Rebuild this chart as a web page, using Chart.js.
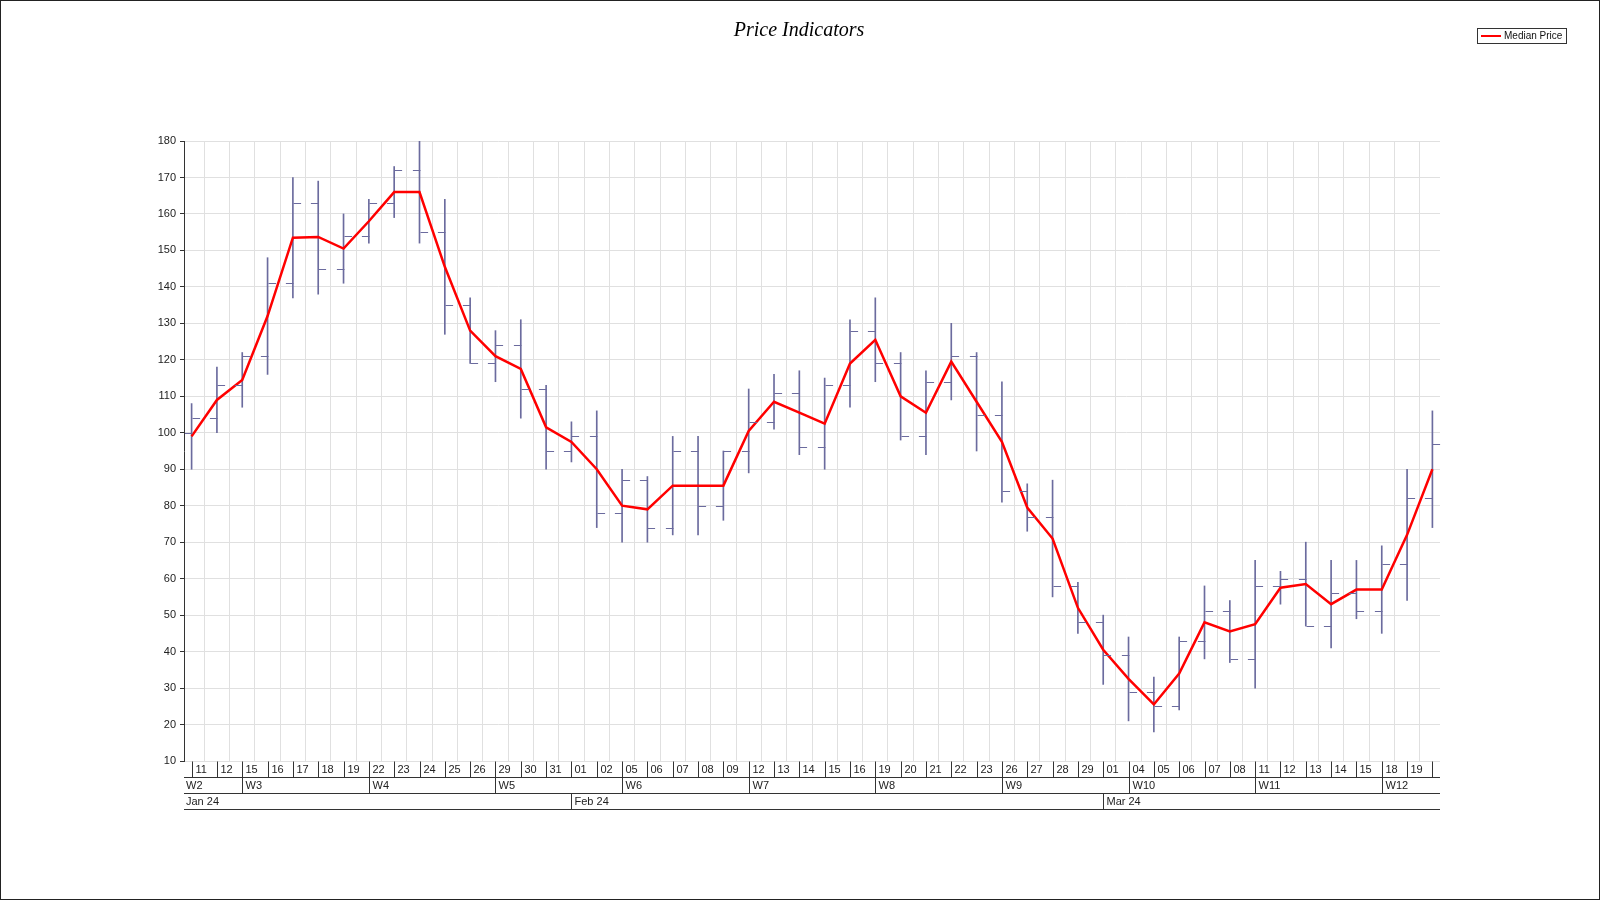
<!DOCTYPE html>
<html>
<head>
<meta charset="utf-8">
<script src="https://cdn.jsdelivr.net/npm/chart.js@4.4.1/dist/chart.umd.min.js"></script>
<style>
  html, body { margin: 0; padding: 0; background: #fff; }
  #wrap { width: 1598px; height: 898px; border: 1px solid #222; }
</style>
</head>
<body>
<div id="wrap"><canvas id="priceChart" width="1598" height="898"></canvas></div>
<script>
// ===== Data =====
const days = ['11','12','15','16','17','18','19','22','23','24','25','26','29','30','31',
  '01','02','05','06','07','08','09','12','13','14','15','16','19','20','21','22','23','26','27','28','29',
  '01','04','05','06','07','08','11','12','13','14','15','18','19',''];
const weeks = ['W2','W2','W3','W3','W3','W3','W3','W4','W4','W4','W4','W4','W5','W5','W5',
  'W5','W5','W6','W6','W6','W6','W6','W7','W7','W7','W7','W7','W8','W8','W8','W8','W8','W9','W9','W9','W9',
  'W9','W10','W10','W10','W10','W10','W11','W11','W11','W11','W11','W12','W12','W12'];
const months = ['Jan 24','Jan 24','Jan 24','Jan 24','Jan 24','Jan 24','Jan 24','Jan 24','Jan 24','Jan 24','Jan 24','Jan 24','Jan 24','Jan 24','Jan 24',
  'Feb 24','Feb 24','Feb 24','Feb 24','Feb 24','Feb 24','Feb 24','Feb 24','Feb 24','Feb 24','Feb 24','Feb 24','Feb 24','Feb 24','Feb 24','Feb 24','Feb 24','Feb 24','Feb 24','Feb 24','Feb 24',
  'Mar 24','Mar 24','Mar 24','Mar 24','Mar 24','Mar 24','Mar 24','Mar 24','Mar 24','Mar 24','Mar 24','Mar 24','Mar 24','Mar 24'];

const openP  = [100,104,113,121,141,163,145,154,163,172,155,135,119,124,112, 95, 99, 78, 87, 74, 95, 80, 95,103,111, 96,113,128,119, 99,114,121,105, 84, 77, 58, 48, 39, 29, 25, 43, 51, 38, 58, 60, 47, 56, 51, 64, 82];
const highP  = [108,118,122,148,170,169,160,164,173,180,164,137,128,131,113,103,106, 90, 88, 99, 99, 95,112,116,117,115,131,137,122,117,130,122,114, 86, 87, 59, 50, 44, 33, 44, 58, 54, 65, 62, 70, 65, 65, 69, 90,106];
const lowP   = [ 90,100,107,116,137,138,141,152,159,152,127,119,114,104, 90, 92, 74, 70, 70, 72, 72, 76, 89,101, 94, 90,107,114, 98, 94,109, 95, 81, 73, 55, 45, 31, 21, 18, 24, 38, 37, 30, 53, 47, 41, 49, 45, 54, 74];
const closeP = [104,113,121,141,163,145,154,163,172,155,135,119,124,112, 95, 99, 78, 87, 74, 95, 80, 95,103,111, 96,113,128,119, 99,114,121,105, 84, 77, 58, 48, 39, 29, 25, 43, 51, 38, 58, 60, 47, 56, 51, 64, 82, 97];
const medianP = [99,109,114.5,132,153.5,153.7,150.5,158,166,166,145.5,128,121,117.5,101.5,97.5,90,80,79,85.5,85.5,85.5,100.5,108.5,105.5,102.5,119,125.5,110,105.5,119.5,108.5,97.5,79.5,71,52,40.5,32.5,25.5,34,48,45.5,47.5,57.5,58.5,53,57,57,72,90];

const axisFont = "11px Arial, 'Liberation Sans', sans-serif";

// ===== Plugins =====
const ohlcTicks = {
  id: 'ohlcTicks',
  afterDatasetsDraw(chart) {
    const { ctx, scales: { x, y } } = chart;
    const w = (x.getPixelForValue(1) - x.getPixelForValue(0)) * 0.3;
    ctx.save();
    ctx.strokeStyle = '#6b6b9e';
    ctx.lineWidth = 1;
    openP.forEach((o, i) => {
      const px = Math.round(x.getPixelForValue(i)) + 0.5;
      ctx.beginPath();
      ctx.moveTo(px - w, Math.round(y.getPixelForValue(o)) + 0.5);
      ctx.lineTo(px, Math.round(y.getPixelForValue(o)) + 0.5);
      ctx.moveTo(px, Math.round(y.getPixelForValue(closeP[i])) + 0.5);
      ctx.lineTo(px + w, Math.round(y.getPixelForValue(closeP[i])) + 0.5);
      ctx.stroke();
    });
    ctx.restore();
  }
};

const dateAxis = {
  id: 'dateAxis',
  afterDraw(chart) {
    const { ctx, chartArea: a, scales: { x } } = chart;
    const rows = [a.bottom, a.bottom + 16, a.bottom + 32, a.bottom + 48];
    ctx.save();
    ctx.strokeStyle = '#333';
    ctx.lineWidth = 1;
    ctx.fillStyle = '#222';
    ctx.font = axisFont;
    ctx.textBaseline = 'middle';
    // horizontal rules
    [rows[1], rows[2], rows[3]].forEach(r => {
      ctx.beginPath(); ctx.moveTo(a.left, r + 0.5); ctx.lineTo(a.right, r + 0.5); ctx.stroke();
    });
    const cell = (row, px, label) => {
      ctx.beginPath();
      ctx.moveTo(px, rows[row] + 0.5); ctx.lineTo(px, rows[row + 1] + 0.5); ctx.stroke();
      ctx.fillText(label, px + 3, (rows[row] + rows[row + 1]) / 2 + 1);
    };
    days.forEach((d, i) => {
      const px = Math.round(x.getPixelForValue(i)) + 0.5;
      cell(0, px, d);
      if (i === 0) ctx.fillText(weeks[i], a.left + 2, (rows[1] + rows[2]) / 2 + 1);
      else if (weeks[i] !== weeks[i - 1]) cell(1, px, weeks[i]);
      if (i === 0) ctx.fillText(months[i], a.left + 2, (rows[2] + rows[3]) / 2 + 1);
      else if (months[i] !== months[i - 1]) cell(2, px, months[i]);
    });
    // title
    ctx.fillStyle = '#000';
    ctx.font = "italic 20px 'Liberation Serif', 'DejaVu Serif', serif";
    ctx.textAlign = 'center';
    ctx.fillText('Price Indicators', chart.width / 2 - 1, 30);
    // legend
    ctx.textAlign = 'left';
    ctx.strokeStyle = '#333';
    ctx.strokeRect(1476.5, 27.5, 89, 15);
    ctx.strokeStyle = '#ff0000';
    ctx.lineWidth = 2;
    ctx.beginPath(); ctx.moveTo(1480, 35); ctx.lineTo(1500, 35); ctx.stroke();
    ctx.fillStyle = '#111';
    ctx.font = "10px Arial, 'Liberation Sans', sans-serif";
    ctx.fillText('Median Price', 1503, 35);
    ctx.restore();
  }
};

// ===== Price Chart =====
const ctx = document.getElementById('priceChart').getContext('2d');
new Chart(ctx, {
  type: 'bar',
  plugins: [ohlcTicks, dateAxis],
  data: {
    datasets: [
      {
        type: 'line',
        label: 'Median Price',
        data: medianP.map((v, i) => ({ x: i, y: v })),
        borderColor: '#ff0000',
        borderWidth: 2.5,
        pointRadius: 0,
        tension: 0,
        order: 0
      },
      {
        type: 'bar',
        label: 'High-Low',
        data: highP.map((h, i) => ({ x: i, y: [lowP[i], h] })),
        backgroundColor: '#6b6b9e',
        barThickness: 1,
        order: 1
      }
    ]
  },
  options: {
    responsive: false,
    animation: false,
    layout: { padding: { left: 140, right: 159, top: 140, bottom: 138 } },
    plugins: { legend: { display: false }, tooltip: { enabled: false } },
    scales: {
      x: {
        type: 'linear',
        min: -0.3,
        max: 49.3,
        offset: false,
        ticks: { display: false, stepSize: 1 },
        afterBuildTicks: s => { s.ticks = days.map((d, i) => ({ value: i })); },
        grid: { color: '#e0e0e0', drawTicks: false },
        border: { display: false },
        afterFit: s => { s.height = 0; }
      },
      y: {
        min: 10,
        max: 180,
        ticks: { stepSize: 10, color: '#222', font: { family: 'Arial, Liberation Sans', size: 11 }, padding: 4 },
        grid: { color: '#e0e0e0', tickLength: 4, tickColor: '#333' },
        border: { color: '#333' },
        afterFit: s => { s.width = 43; }
      }
    }
  }
});
</script>
</body>
</html>
